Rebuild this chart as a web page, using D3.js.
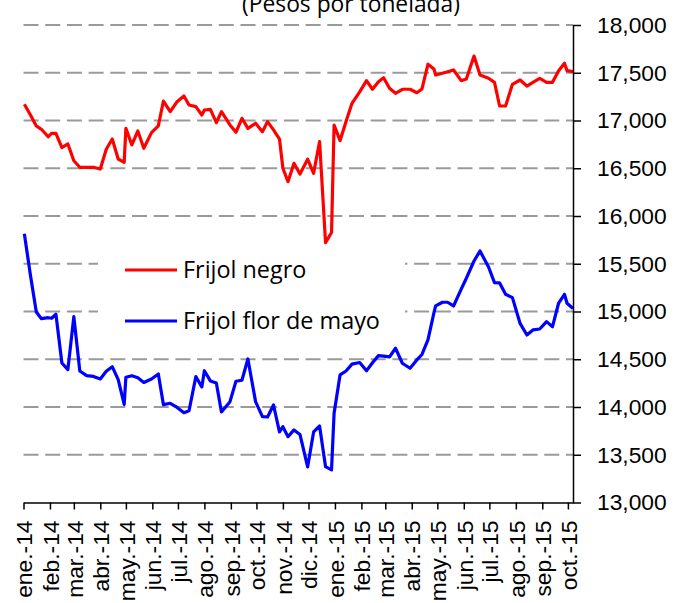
<!DOCTYPE html>
<html>
<head>
<meta charset="UTF-8" />
<script src="https://cdn.jsdelivr.net/npm/d3@7"></script>
<title>Frijol</title>
<style>
    body { margin: 0; background: white; }
    svg { display: block; font-family: "Open Sans", Lato, sans-serif; }
</style>
</head>
<body>
<div id="chart"></div>
<script>
// fechas de observacion (compartidas por ambas series)
const fechas = [
    "2014-01-02","2014-01-09","2014-01-16","2014-01-22","2014-01-30","2014-02-03","2014-02-08","2014-02-15","2014-02-22",
    "2014-03-01","2014-03-08","2014-03-16","2014-03-24","2014-04-01","2014-04-08","2014-04-15","2014-04-22","2014-04-29",
    "2014-05-01","2014-05-08","2014-05-15","2014-05-22","2014-05-31","2014-06-08","2014-06-14","2014-06-22","2014-06-30",
    "2014-07-08","2014-07-14","2014-07-22","2014-07-29","2014-08-01","2014-08-08","2014-08-15","2014-08-21","2014-08-31",
    "2014-09-07","2014-09-14","2014-09-21","2014-09-30","2014-10-08","2014-10-14","2014-10-21","2014-10-28","2014-11-01",
    "2014-11-07","2014-11-14","2014-11-21","2014-11-30","2014-12-07","2014-12-14","2014-12-21","2014-12-28","2014-12-31",
    "2015-01-07","2015-01-14","2015-01-21","2015-01-30","2015-02-07","2015-02-14","2015-02-21","2015-02-27","2015-03-06",
    "2015-03-13","2015-03-21","2015-03-30","2015-04-07","2015-04-13","2015-04-20","2015-04-27","2015-04-29","2015-05-07",
    "2015-05-13","2015-05-20","2015-05-29","2015-06-04","2015-06-13","2015-06-20","2015-06-30","2015-07-07","2015-07-13",
    "2015-07-20","2015-07-28","2015-08-06","2015-08-14","2015-08-21","2015-08-29","2015-09-06","2015-09-13","2015-09-20",
    "2015-09-27","2015-09-30","2015-10-07"
];
// Frijol negro (pesos por tonelada)
const negro = [
    17170,17060,16943,16908,16830,16866,16866,16717,16754,
    16579,16510,16510,16510,16492,16699,16806,16597,16562,
    16918,16744,16890,16709,16873,16943,17204,17092,17197,
    17257,17162,17145,17058,17110,17117,16977,17092,16953,
    16877,17023,16918,16971,16883,16988,16902,16806,16500,
    16359,16552,16440,16595,16447,16780,15721,15827,16953,
    16789,16990,17180,17300,17417,17327,17406,17448,17337,
    17285,17327,17327,17291,17330,17589,17539,17477,17495,
    17510,17529,17417,17435,17675,17477,17442,17400,17152,
    17152,17379,17424,17361,17400,17442,17400,17400,17518,
    17599,17522,17511
];
// Frijol flor de mayo (pesos por tonelada)
const mayo = [
    15815,15387,14995,14925,14935,14929,14971,14461,14391,
    14946,14377,14328,14320,14294,14374,14422,14286,14027,
    14312,14328,14307,14257,14294,14346,14025,14039,13995,
    13940,13961,14318,14210,14380,14273,14252,13948,14056,
    14270,14280,14503,14056,13899,13896,14021,13739,13794,
    13689,13760,13713,13372,13739,13801,13375,13341,13934,
    14336,14377,14449,14466,14380,14463,14538,14532,14524,
    14615,14458,14406,14493,14550,14702,14985,15058,15097,
    15097,15058,15234,15348,15529,15634,15466,15302,15299,
    15180,15145,14875,14754,14807,14817,14894,14841,15084,
    15180,15086,15032
];
const etiquetasX = ["ene.-14","feb.-14","mar.-14","abr.-14","may.-14","jun.-14","jul.-14","ago.-14","sep.-14","oct.-14","nov.-14",
    "dic.-14","ene.-15","feb.-15","mar.-15","abr.-15","may.-15","jun.-15","jul.-15","ago.-15","sep.-15","oct.-15"];
const ticksY = [13000,13500,14000,14500,15000,15500,16000,16500,17000,17500,18000];
const series = [
    {nombre: "Frijol negro", valores: negro, color: "#ff0000"},
    {nombre: "Frijol flor de mayo", valores: mayo, color: "#0000ff"}
];

const w = 675, h = 603;
const fontSize = 22.8;
const parse = d3.timeParse("%Y-%m-%d");

const x = d3.scaleTime()
    .domain([parse("2014-01-01"), parse("2015-10-07")])
    .range([23.5, 573]);
const y = d3.scaleLinear()
    .domain([13000, 18000])
    .range([502.5, 25]);

const svg = d3.select("#chart").append("svg")
    .attr("width", w)
    .attr("height", h);

// titulo (cortado arriba como en el original)
svg.append("text")
    .attr("x", 351).attr("y", 12)
    .attr("text-anchor", "middle")
    .style("font-size", fontSize + "px")
    .text("(Pesos por tonelada)");

// lineas de cuadricula punteadas
svg.append("g").selectAll("line")
    .data(ticksY.filter(v => v > 13000))
    .enter().append("line")
    .attr("x1", x.range()[0]).attr("x2", x.range()[1])
    .attr("y1", d => y(d)).attr("y2", d => y(d))
    .attr("stroke", "#9a9a9a")
    .attr("stroke-width", 2)
    .attr("stroke-dasharray", "15,6.7");

// series
const line = d3.line()
    .x((d, i) => x(parse(fechas[i])))
    .y(d => y(d));
series.forEach(s => {
    svg.append("path")
        .datum(s.valores)
        .attr("fill", "none")
        .attr("stroke", s.color)
        .attr("stroke-width", 3.2)
        .attr("stroke-linejoin", "round")
        .attr("d", line);
});

// ejes
const meses = d3.timeMonth.range(parse("2014-01-01"), parse("2015-10-02"));
const xAxis = d3.axisBottom(x)
    .tickValues(meses)
    .tickSize(7)
    .tickSizeOuter(0)
    .tickFormat((d, i) => etiquetasX[i]);
const gx = svg.append("g")
    .attr("transform", "translate(0," + y(13000) + ")")
    .call(xAxis);
gx.selectAll("text")
    .attr("transform", "rotate(-90)")
    .attr("x", -18)
    .attr("y", 0)
    .attr("dy", "0.36em")
    .style("text-anchor", "end")
    .style("font-size", fontSize + "px")
    .attr("fill", "#000");

const yAxis = d3.axisRight(y)
    .tickValues(ticksY)
    .tickSize(8)
    .tickSizeOuter(0)
    .tickPadding(16)
    .tickFormat(d3.format(","));
const gy = svg.append("g")
    .attr("transform", "translate(" + x.range()[1] + ",0)")
    .call(yAxis);
gy.selectAll("text")
    .style("font-size", fontSize + "px")
    .attr("fill", "#000");

svg.selectAll(".domain, .tick line")
    .attr("stroke", "#000")
    .attr("stroke-width", 1.5);

// leyenda
const leyenda = svg.append("g");
leyenda.append("rect")
    .attr("x", 98).attr("y", 246)
    .attr("width", 307).attr("height", 99)
    .attr("fill", "white");
series.forEach((s, i) => {
    const cy = 270 + i * 51;
    leyenda.append("line")
        .attr("x1", 125).attr("x2", 177)
        .attr("y1", cy).attr("y2", cy)
        .attr("stroke", s.color)
        .attr("stroke-width", 3.2);
    leyenda.append("text")
        .attr("x", 183).attr("y", cy + 8)
        .style("font-size", "23.4px")
        .text(s.nombre);
});
</script>
</body>
</html>
